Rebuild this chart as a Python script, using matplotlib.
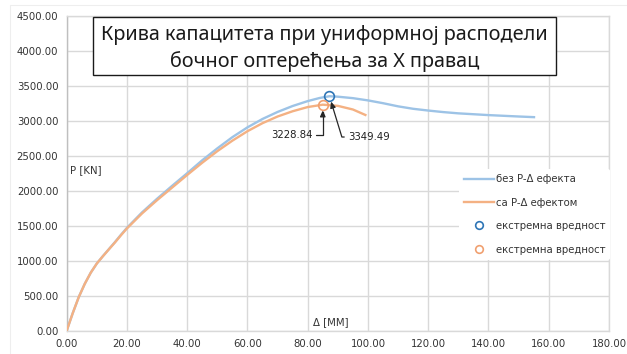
import matplotlib
matplotlib.use("Agg")
import matplotlib.pyplot as plt
from matplotlib.lines import Line2D
from matplotlib.patches import Rectangle

# Pushover curve without P-Delta effect
delta_no_pd = [0, 2, 4, 6, 8, 10, 12, 14, 16, 18, 20, 25, 30, 35, 40, 45, 50,
               55, 60, 65, 70, 75, 80, 84, 87.2, 90, 95, 100, 105, 110, 115,
               120, 125, 130, 140, 150, 155.5]
force_no_pd = [0, 250, 480, 670, 830, 960, 1065, 1165, 1265, 1370, 1470, 1690,
               1885, 2070, 2250, 2435, 2605, 2765, 2905, 3025, 3125, 3210, 3280,
               3325, 3349.49, 3343, 3322, 3290, 3250, 3205, 3170, 3145, 3123,
               3105, 3080, 3060, 3050]

# Pushover curve with P-Delta effect
delta_pd = [0, 2, 4, 6, 8, 10, 12, 14, 16, 18, 20, 25, 30, 35, 40, 45, 50, 55,
            60, 65, 70, 75, 80, 85, 90, 95, 99.5]
force_pd = [0, 250, 480, 670, 830, 960, 1063, 1162, 1260, 1363, 1461, 1675,
            1865, 2045, 2225, 2400, 2565, 2715, 2850, 2965, 3060, 3135, 3195,
            3228.84, 3212, 3160, 3075]

# Peak (extreme) values
peak_no_pd = (87.2, 3349.49)
peak_pd = (85.0, 3228.84)

x_ticks = [0, 20, 40, 60, 80, 100, 120, 140, 160, 180]
y_ticks = [0, 500, 1000, 1500, 2000, 2500, 3000, 3500, 4000, 4500]

title_lines = ["Крива капацитета при униформној расподели",
               "бочног оптерећења за X правац"]
legend_labels = ["без P-Δ ефекта", "са P-Δ ефектом",
                 "екстремна вредност", "екстремна вредност"]

W, H = 627, 354
fig = plt.figure(figsize=(W / 100, H / 100), dpi=100)


def fx(px):
    return px / W


def fy(py):
    return 1 - py / H


ax = fig.add_axes([fx(66.7), fy(330.7), fx(609) - fx(66.7), fy(15.7) - fy(330.7)])

blue_line = "#9dc3e6"
orange_line = "#f4b183"
blue_mark = "#2e75b6"
orange_mark = "#f0a070"
grid_c = "#d9d9d9"
text_c = "#333333"

ax.plot(delta_no_pd, force_no_pd, color=blue_line, lw=1.7, solid_joinstyle="round",
        solid_capstyle="butt", zorder=3)
ax.plot(delta_pd, force_pd, color=orange_line, lw=1.7, solid_joinstyle="round",
        solid_capstyle="butt", zorder=3)
ax.plot([peak_no_pd[0]], [peak_no_pd[1]], "o", ms=7, mfc="none", mec=blue_mark,
        mew=1.2, zorder=4)
ax.plot([peak_pd[0]], [peak_pd[1]], "o", ms=7, mfc="none", mec=orange_mark,
        mew=1.2, zorder=4)

ax.set_xlim(0, 180)
ax.set_ylim(0, 4500)
ax.set_xticks(x_ticks)
ax.set_yticks(y_ticks)
ax.set_xticklabels([f"{v:.2f}" for v in x_ticks])
ax.set_yticklabels([f"{v:.2f}" for v in y_ticks])
ax.tick_params(length=0, labelsize=7.3, colors=text_c, pad=6)
ax.grid(True, color=grid_c, lw=1)
ax.set_axisbelow(True)
for s in ax.spines.values():
    s.set_color(grid_c)
    s.set_linewidth(1)
ax.spines["left"].set_color("#bfbfbf")

# Value callouts
arrow_kw = dict(arrowstyle="-|>,head_length=0.5,head_width=0.22", color="#262626",
                lw=0.9, shrinkA=1, shrinkB=4)
ax.annotate(f"{peak_pd[1]:.2f}", xy=peak_pd, xytext=(81.5, 2796),
            ha="right", va="center", fontsize=7.3, color="#1f1f1f",
            arrowprops=dict(**arrow_kw, relpos=(1, 0.5),
                            connectionstyle="angle,angleA=0,angleB=90,rad=0"),
            zorder=5)
ax.annotate(f"{peak_no_pd[1]:.2f}", xy=peak_no_pd, xytext=(93.5, 2767),
            ha="left", va="center", fontsize=7.3, color="#1f1f1f",
            arrowprops=dict(**arrow_kw, relpos=(0, 0.5),
                            connectionstyle="angle,angleA=0,angleB=107,rad=0"),
            zorder=5)

# Axis titles placed inside the plot area
fig.text(fx(70), fy(170), "P [KN]", fontsize=7.3, color=text_c, ha="left", va="center")
fig.text(fx(313), fy(322), "Δ [MM]", fontsize=7.3, color=text_c, ha="left", va="center")

# Legend
handles = [
    Line2D([], [], color=blue_line, lw=1.7),
    Line2D([], [], color=orange_line, lw=1.7),
    Line2D([], [], ls="none", marker="o", ms=5.5, mfc="none", mec=blue_mark, mew=1.2),
    Line2D([], [], ls="none", marker="o", ms=5.5, mfc="none", mec=orange_mark, mew=1.2),
]
leg = fig.legend(handles, legend_labels, loc="upper left",
                 bbox_to_anchor=(fx(459), fy(169)), frameon=True, fontsize=7.3,
                 handlelength=3.0, handletextpad=0.1, labelspacing=1.33,
                 borderpad=0.5, borderaxespad=0, labelcolor=text_c)
leg.get_frame().set_facecolor("white")
leg.get_frame().set_edgecolor("none")
leg.get_frame().set_alpha(1)
leg.set_zorder(6)

# Title box
fig.patches.append(Rectangle((fx(93), fy(75)), fx(556) - fx(93), fy(17) - fy(75),
                             transform=fig.transFigure, facecolor="white",
                             edgecolor="#1a1a1a", lw=1.0, zorder=7))
title_font = ["Noto Sans", "DejaVu Sans"]
fig.text(fx(324.5), fy(35), title_lines[0], fontsize=14.3, family=title_font,
         color="#1a1a1a", ha="center", va="center", zorder=8)
fig.text(fx(324.5), fy(61.5), title_lines[1], fontsize=14.3, family=title_font,
         color="#1a1a1a", ha="center", va="center", zorder=8)

# Faint chart-area border
fig.patches.append(Rectangle((fx(10), fy(360)), fx(640) - fx(10), fy(5) - fy(360),
                             transform=fig.transFigure, facecolor="none",
                             edgecolor="#eeeeee", lw=0.8, zorder=0))

fig.savefig("out.png", dpi=100)
